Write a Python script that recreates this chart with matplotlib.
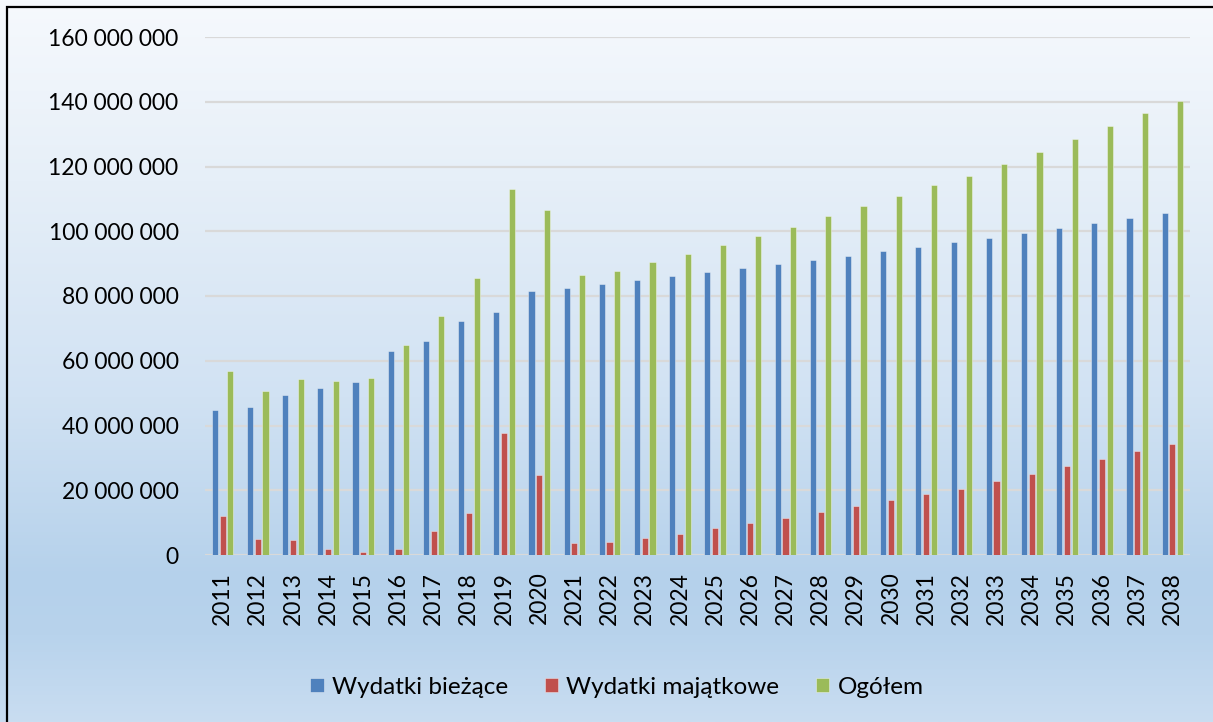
import numpy as np
import matplotlib
matplotlib.use("Agg")
import matplotlib.pyplot as plt
from matplotlib.patches import Rectangle
from matplotlib.ticker import FuncFormatter

plt.rcParams['font.family'] = ['Lato', 'DejaVu Sans']

years = [str(y) for y in range(2011, 2039)]

# Wydatki bieżące
biezace = [44.8, 45.7, 49.5, 51.5, 53.4, 63.0, 66.1, 72.3, 75.2, 81.5,
           82.6, 83.7, 84.9, 86.1, 87.4, 88.6, 89.9, 91.1, 92.4, 93.8,
           95.1, 96.7, 98.0, 99.5, 101.0, 102.5, 104.0, 105.6]
# Wydatki majątkowe
majatkowe = [12.0, 4.9, 4.7, 1.9, 0.9, 1.8, 7.5, 13.0, 37.7, 24.7,
             3.8, 3.9, 5.3, 6.6, 8.2, 9.8, 11.3, 13.3, 15.1, 17.0,
             18.9, 20.3, 22.9, 24.9, 27.4, 29.7, 32.0, 34.2]
# Ogółem
ogolem = [56.8, 50.7, 54.4, 53.7, 54.6, 65.0, 73.8, 85.6, 113.1, 106.5,
          86.5, 87.7, 90.4, 92.9, 95.8, 98.6, 101.3, 104.6, 107.8, 111.0,
          114.3, 117.1, 120.8, 124.5, 128.5, 132.5, 136.5, 140.2]

labels = ['Wydatki bieżące', 'Wydatki majątkowe', 'Ogółem']
colors = ['#4F81BD', '#C0504D', '#9BBB59']

W, H = 1213, 722
fig = plt.figure(figsize=(W / 100, H / 100), dpi=100)

# tło z gradientem
bg = fig.add_axes([0, 0, 1, 1], zorder=-10)
stops_y = [0.0, 0.25, 0.55, 0.80, 0.88, 1.0]
stops_c = np.array([[0xF6, 0xF9, 0xFD], [0xE6, 0xEF, 0xF8], [0xD1, 0xE2, 0xF3],
                    [0xB5, 0xD1, 0xEB], [0xB8, 0xD3, 0xEC], [0xC9, 0xDD, 0xF1]]) / 255
yy = np.linspace(0, 1, 400)
grad = np.stack([np.interp(yy, stops_y, stops_c[:, k]) for k in range(3)], axis=-1)
bg.imshow(grad[:, None, :], aspect='auto', extent=[0, 1, 0, 1], origin='upper')
bg.set_xlim(0, 1)
bg.set_ylim(0, 1)
bg.axis('off')
fig.add_artist(Rectangle((7 / W, -0.05), 1.1, 1 - 7 / H + 0.05, transform=fig.transFigure,
                         fill=False, edgecolor='black', lw=1.6, zorder=5))

ax = fig.add_axes([205 / W, 1 - 555 / H, (1190 - 205) / W, (555 - 37) / H])
ax.set_facecolor('none')

x = np.arange(len(years))
w = 0.175
off = 0.22
for i, (vals, lab, col) in enumerate(zip([biezace, majatkowe, ogolem], labels, colors)):
    ax.bar(x + (i - 1) * off, np.array(vals) * 1e6, width=w, color=col, label=lab,
           edgecolor=(1, 1, 1, 0.45), linewidth=0.6, zorder=3)

ax.set_xlim(-0.5, len(years) - 0.5)
ax.set_ylim(0, 160e6)
ax.set_yticks(np.arange(0, 160e6 + 1, 20e6))
ax.yaxis.set_major_formatter(FuncFormatter(lambda v, p: f"{int(v):,}".replace(',', ' ')))
ax.set_xticks(x)
ax.set_xticklabels(years, rotation=90)
ax.tick_params(axis='y', length=0, pad=19, labelsize=16.5)
ax.tick_params(axis='x', length=0, pad=12, labelsize=16.5)
ax.grid(axis='y', color='#D9D9D9', lw=1.6, zorder=0)
for s in ax.spines.values():
    s.set_visible(False)

fig.legend(loc='center', bbox_to_anchor=(617 / W, 1 - 687 / H), ncol=3, frameon=False,
           fontsize=17.5, handlelength=0.55, handleheight=0.55, handletextpad=0.35,
           columnspacing=1.5)

fig.savefig('out.png', dpi=100)
